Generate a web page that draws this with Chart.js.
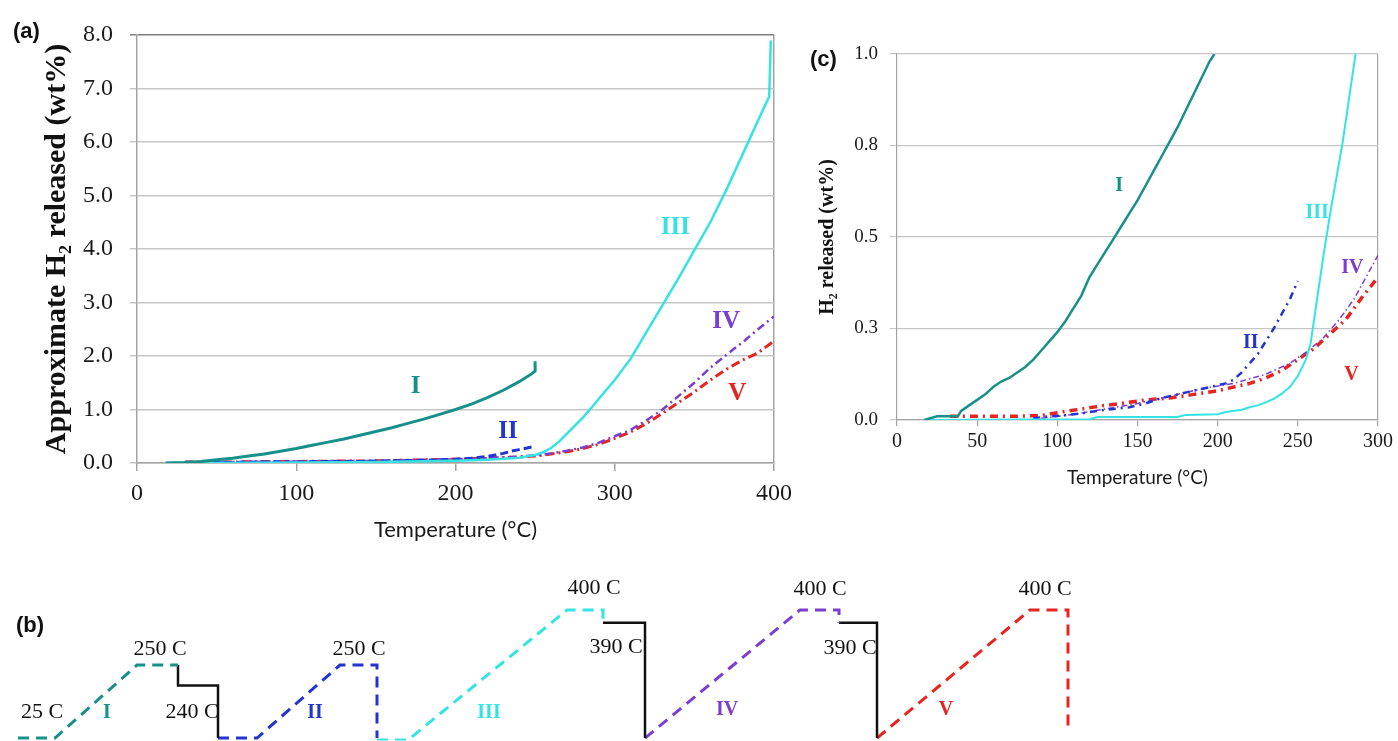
<!DOCTYPE html>
<html lang="en">
<head>
  <meta charset="UTF-8">
  <title>H2 release on heating</title>
  <script src="https://cdn.jsdelivr.net/npm/chart.js"></script>
  <style>
    body { margin: 0; background: #fff; }
    .page { position: relative; width: 1398px; height: 741px; overflow: hidden; background: #fff; }
    .box { position: absolute; }
    .tag { position: absolute; font-family: 'Liberation Sans Narrow', 'Liberation Sans', Arial, sans-serif; font-weight: bold; font-size: 22px; color: #111; }
  </style>
</head>
<body>
<div class="page">
  <div class="box" style="left:0;top:0;width:800px;height:560px"><canvas id="chartA"></canvas></div>
  <div class="box" style="left:800px;top:0;width:598px;height:500px"><canvas id="chartC"></canvas></div>
  <div class="box" style="left:0;top:565px;width:1100px;height:176px"><canvas id="chartB"></canvas></div>
  <div class="tag" style="left:13px;top:18px">(a)</div>
  <div class="tag" style="left:810px;top:46px">(c)</div>
  <div class="tag" style="left:16px;top:612px">(b)</div>
</div>

<script>
  // ---- (a) H2 released vs temperature, full runs ----
  const tempA_I  = [18, 30, 40, 50, 60, 70, 80, 90, 100, 110, 120, 130, 140, 150, 160, 170, 180, 190, 200, 210, 220, 230, 240, 248, 250, 250];
  const h2A_I    = [0, 0.01, 0.03, 0.06, 0.09, 0.13, 0.17, 0.22, 0.27, 0.33, 0.39, 0.45, 0.52, 0.59, 0.66, 0.74, 0.82, 0.91, 1.0, 1.1, 1.22, 1.36, 1.52, 1.67, 1.72, 1.9];
  const tempA_II = [40, 60, 80, 100, 120, 140, 160, 180, 200, 210, 220, 225, 230, 235, 240, 245, 248];
  const h2A_II   = [0.01, 0.01, 0.02, 0.02, 0.03, 0.03, 0.04, 0.05, 0.07, 0.09, 0.12, 0.15, 0.18, 0.22, 0.25, 0.28, 0.3];
  const tempA_III = [18, 50, 100, 150, 200, 220, 240, 250, 255, 260, 265, 270, 275, 280, 285, 290, 300, 310, 320, 330, 340, 350, 360, 370, 380, 390, 397, 398];
  const h2A_III   = [0, 0, 0.01, 0.02, 0.04, 0.06, 0.1, 0.15, 0.2, 0.28, 0.4, 0.55, 0.7, 0.85, 1.02, 1.2, 1.55, 1.95, 2.45, 2.95, 3.45, 3.98, 4.5, 5.1, 5.75, 6.4, 6.85, 7.9];
  const tempA_IV = [30, 60, 100, 150, 200, 220, 240, 250, 260, 270, 280, 290, 300, 310, 320, 330, 340, 350, 360, 370, 380, 390, 400];
  const h2A_IV   = [0.02, 0.02, 0.03, 0.04, 0.07, 0.09, 0.12, 0.14, 0.18, 0.23, 0.29, 0.38, 0.5, 0.62, 0.8, 1.0, 1.25, 1.5, 1.78, 2.02, 2.25, 2.5, 2.74];
  const tempA_V  = [30, 60, 100, 150, 200, 220, 240, 250, 260, 270, 280, 290, 300, 310, 320, 330, 340, 350, 360, 370, 380, 390, 400];
  const h2A_V    = [0.02, 0.02, 0.03, 0.04, 0.07, 0.09, 0.11, 0.13, 0.17, 0.21, 0.27, 0.35, 0.46, 0.58, 0.74, 0.93, 1.13, 1.33, 1.55, 1.75, 1.92, 2.06, 2.28];

  // ---- (c) close-up of the first 1 wt% ----
  const tempC_I  = [17, 25, 38, 40, 45, 50, 55, 60, 65, 70, 75, 80, 85, 90, 95, 100, 105, 110, 115, 120, 125, 130, 135, 140, 145, 150, 155, 160, 165, 170, 175, 180, 185, 190, 195, 198];
  const h2C_I    = [0, 0.01, 0.01, 0.025, 0.04, 0.055, 0.07, 0.09, 0.105, 0.115, 0.13, 0.145, 0.165, 0.19, 0.215, 0.24, 0.27, 0.305, 0.34, 0.39, 0.425, 0.46, 0.495, 0.53, 0.565, 0.6, 0.64, 0.68, 0.72, 0.76, 0.8, 0.845, 0.89, 0.935, 0.98, 1.0];
  const tempC_II = [85, 95, 105, 115, 125, 135, 145, 155, 165, 175, 185, 195, 205, 210, 215, 220, 225, 230, 235, 240, 245, 250];
  const h2C_II   = [0.005, 0.01, 0.013, 0.018, 0.025, 0.03, 0.035, 0.045, 0.06, 0.07, 0.08, 0.09, 0.1, 0.11, 0.13, 0.155, 0.18, 0.215, 0.25, 0.29, 0.33, 0.38];
  const tempC_III = [20, 120, 125, 175, 180, 200, 205, 215, 220, 225, 230, 235, 240, 245, 250, 255, 258, 260, 263, 266, 270, 274, 278, 282, 286];
  const h2C_III   = [0, 0.002, 0.008, 0.008, 0.014, 0.016, 0.022, 0.028, 0.035, 0.04, 0.048, 0.058, 0.072, 0.09, 0.12, 0.165, 0.21, 0.27, 0.36, 0.45, 0.56, 0.66, 0.76, 0.88, 1.0];
  const tempC_IV = [90, 110, 130, 150, 170, 190, 210, 230, 245, 255, 265, 275, 285, 290, 295, 300];
  const h2C_IV   = [0.005, 0.015, 0.03, 0.045, 0.065, 0.085, 0.1, 0.125, 0.155, 0.185, 0.22, 0.27, 0.33, 0.37, 0.41, 0.45];
  const tempC_V  = [33, 42, 50, 70, 90, 100, 115, 130, 141, 155, 170, 185, 200, 210, 220, 230, 240, 250, 260, 270, 280, 290, 300];
  const h2C_V    = [0.01, 0.01, 0.01, 0.01, 0.012, 0.02, 0.03, 0.04, 0.046, 0.055, 0.06, 0.07, 0.08, 0.09, 0.1, 0.115, 0.135, 0.165, 0.195, 0.235, 0.275, 0.335, 0.39];

  // curve labels
  const runNames   = ['I', 'II', 'III', 'IV', 'V'];
  const labelTempA = [175, 233, 338, 370, 377];
  const labelH2A   = [1.42, 0.58, 4.4, 2.65, 1.3];
  const labelTempC = [138.5, 220.6, 262, 284, 283.4];
  const labelH2C   = [0.64, 0.211, 0.565, 0.415, 0.124];

  // ---- (b) heating programmes (schematic: time a.u. vs level, 0 = start, 1 = 400 C hold) ----
  const progTime_I   = [1.8, 5.5, 13.7, 17.8];
  const progLevel_I  = [0, 0, 0.57, 0.57];
  const coolTime_I   = [17.8, 17.8, 21.8, 21.8];
  const coolLevel_I  = [0.57, 0.41, 0.41, 0];
  const progTime_II  = [21.8, 25.7, 34.0, 37.7, 37.7];
  const progLevel_II = [0, 0, 0.57, 0.57, 0];
  const progTime_III  = [37.7, 40.8, 56.7, 60.3, 60.3];
  const progLevel_III = [-0.015, -0.015, 1, 1, 0.9];
  const coolTime_III  = [60.3, 64.5, 64.5];
  const coolLevel_III = [0.9, 0.9, 0];
  const progTime_IV  = [64.5, 80.0, 83.9, 83.9];
  const progLevel_IV = [0, 1, 1, 0.9];
  const coolTime_IV  = [83.9, 87.7, 87.7];
  const coolLevel_IV = [0.9, 0.9, 0];
  const progTime_V   = [87.7, 103.0, 106.8, 106.8];
  const progLevel_V  = [0, 1, 1, 0.086];

  const stepText  = ['25 C', '250 C', '240 C', '250 C', '400 C', '390 C', '400 C', '390 C', '400 C'];
  const stepTime  = [4.2, 16.0, 19.2, 35.9, 59.4, 61.6, 82.0, 85.0, 104.5];
  const stepLevel = [0.2, 0.69, 0.2, 0.69, 1.17, 0.71, 1.16, 0.70, 1.16];
  const runTime   = [10.7, 31.5, 48.9, 72.7, 94.6];
  const runLevel  = [0.2, 0.2, 0.2, 0.22, 0.22];

  const colors = { I: '#18908a', II: '#2334cf', III: '#35e3e3', IV: '#7a3fcf', V: '#e62420' };
  const runColors = runNames.map(n => colors[n]);
  const serif = "'Liberation Serif', 'Times New Roman', serif";
  const sans = "Lato, 'Open Sans', sans-serif";
  const gridGrey = '#c6c6c6';
  const frameGrey = '#a3a3a3';

  const pts = (xs, ys) => xs.map((x, i) => ({ x: x, y: ys[i] }));
  function curve(data, color, width, dash) {
    return {
      data: data, showLine: true, borderColor: color, backgroundColor: color,
      borderWidth: width, borderDash: dash, pointRadius: 0, tension: 0, fill: false
    };
  }

  // draws text items at data coordinates
  const textLabels = {
    id: 'textLabels',
    beforeDatasetsDraw(chart, args, opts) {
      const ctx = chart.ctx;
      const xs = chart.scales.x, ys = chart.scales.y;
      ctx.save();
      ctx.textAlign = 'center';
      ctx.textBaseline = 'middle';
      (opts.items || []).forEach(it => {
        ctx.font = it.font;
        ctx.fillStyle = it.color;
        ctx.fillText(it.text, xs.getPixelForValue(it.x), ys.getPixelForValue(it.y));
      });
      ctx.restore();
    }
  };

  Chart.defaults.animation = false;
  Chart.defaults.plugins.legend.display = false;
  Chart.defaults.plugins.tooltip.enabled = false;

  // ---------- panel (a) ----------
  new Chart(document.getElementById('chartA'), {
    type: 'scatter',
    plugins: [textLabels],
    data: {
      datasets: [
        curve(pts(tempA_I, h2A_I), colors.I, 3, []),
        curve(pts(tempA_III, h2A_III), colors.III, 2.5, []),
        curve(pts(tempA_II, h2A_II), colors.II, 3, [8, 4]),
        curve(pts(tempA_IV, h2A_IV), colors.IV, 2.5, [8, 4, 2, 4]),
        curve(pts(tempA_V, h2A_V), colors.V, 3, [9, 4, 2, 4])
      ]
    },
    options: {
      responsive: true,
      maintainAspectRatio: false,
      layout: { padding: { top: 35, right: 26, left: 0, bottom: 0 } },
      plugins: {
        textLabels: {
          items: runNames.map((n, i) => ({ text: n, x: labelTempA[i], y: labelH2A[i], color: runColors[i], font: 'bold 25px ' + serif }))
        }
      },
      scales: {
        x: {
          type: 'linear', min: 0, max: 400,
          ticks: { stepSize: 100, padding: 8, color: '#1a1a1a', font: { family: serif, size: 24 } },
          grid: {
            color: c => (c.tick && c.tick.value === 400 ? frameGrey : 'rgba(0,0,0,0)'),
            tickColor: frameGrey, tickLength: 8, lineWidth: 1.5
          },
          border: { color: frameGrey, width: 1.5 },
          title: { display: true, text: 'Temperature (°C)', color: '#1a1a1a', font: { family: sans, size: 22 }, padding: { top: 0, bottom: 17 } },
          afterFit: s => { s.height = 97; }
        },
        y: {
          min: 0, max: 8,
          ticks: { stepSize: 1, padding: 17, color: '#1a1a1a', font: { family: serif, size: 24 }, callback: v => v.toFixed(1) },
          grid: {
            color: c => (c.tick && c.tick.value === 8 ? '#7d7d7d' : gridGrey),
            tickLength: 7, lineWidth: 1.5
          },
          border: { color: frameGrey, width: 1.5 },
          title: { display: true, text: 'Approximate H\u2082 released (wt%)', color: '#111', font: { family: serif, size: 30, weight: 'bold' }, padding: { top: 39, bottom: 0 } },
          afterFit: s => { s.width = 137; }
        }
      }
    }
  });

  // ---------- panel (c) ----------
  new Chart(document.getElementById('chartC'), {
    type: 'scatter',
    plugins: [textLabels],
    data: {
      datasets: [
        curve(pts(tempC_I, h2C_I), colors.I, 2.5, []),
        curve(pts(tempC_III, h2C_III), colors.III, 2, []),
        curve(pts(tempC_II, h2C_II), colors.II, 2.5, [7, 5, 2, 5]),
        curve(pts(tempC_IV, h2C_IV), colors.IV, 1.5, [6, 3, 1.5, 3]),
        curve(pts(tempC_V, h2C_V), colors.V, 3.5, [8, 5, 2, 5])
      ]
    },
    options: {
      responsive: true,
      maintainAspectRatio: false,
      layout: { padding: { top: 54, right: 20, left: 0, bottom: 0 } },
      plugins: {
        textLabels: {
          items: runNames.map((n, i) => ({ text: n, x: labelTempC[i], y: labelH2C[i], color: runColors[i], font: 'bold 20px ' + serif }))
        }
      },
      scales: {
        x: {
          type: 'linear', min: 0, max: 300,
          ticks: { stepSize: 50, padding: 4, color: '#1a1a1a', font: { family: serif, size: 20 } },
          grid: {
            color: c => (c.tick && c.tick.value === 300 ? frameGrey : 'rgba(0,0,0,0)'),
            tickColor: frameGrey, tickLength: 6, lineWidth: 1.2
          },
          border: { color: frameGrey, width: 1.2 },
          title: { display: true, text: 'Temperature (°C)', color: '#1a1a1a', font: { family: sans, size: 19 }, padding: { top: 0, bottom: 11 } },
          afterFit: s => { s.height = 80; }
        },
        y: {
          min: 0, max: 1,
          ticks: { stepSize: 0.25, padding: 12, color: '#1a1a1a', font: { family: serif, size: 19 }, callback: v => v.toFixed(1) },
          grid: { color: gridGrey, tickLength: 7, lineWidth: 1.2 },
          border: { color: frameGrey, width: 1.2 },
          title: { display: true, text: 'H\u2082 released (wt%)', color: '#111', font: { family: serif, size: 20, weight: 'bold' }, padding: { top: 16, bottom: 0 } },
          afterFit: s => { s.width = 97; }
        }
      }
    }
  });

  // ---------- panel (b) ----------
  const stepItems = stepText.map((t, i) => ({ text: t, x: stepTime[i], y: stepLevel[i], color: '#111', font: '22px ' + serif }));
  const runItems = runNames.map((n, i) => ({ text: n, x: runTime[i], y: runLevel[i], color: runColors[i], font: 'bold 20px ' + serif }));

  new Chart(document.getElementById('chartB'), {
    type: 'scatter',
    plugins: [textLabels],
    data: {
      datasets: [
        curve(pts(progTime_I, progLevel_I), colors.I, 3, [11, 7]),
        curve(pts(coolTime_I, coolLevel_I), '#111', 2.5, []),
        curve(pts(progTime_II, progLevel_II), colors.II, 3, [11, 7]),
        curve(pts(progTime_III, progLevel_III), colors.III, 3, [11, 7]),
        curve(pts(coolTime_III, coolLevel_III), '#111', 2.5, []),
        curve(pts(progTime_IV, progLevel_IV), colors.IV, 3, [11, 7]),
        curve(pts(coolTime_IV, coolLevel_IV), '#111', 2.5, []),
        curve(pts(progTime_V, progLevel_V), colors.V, 3, [11, 7])
      ]
    },
    options: {
      responsive: true,
      maintainAspectRatio: false,
      layout: { padding: { top: 6.6, right: 0, left: 0, bottom: 0.4 } },
      plugins: { textLabels: { items: stepItems.concat(runItems) } },
      scales: {
        x: { type: 'linear', min: 0, max: 110, display: false },
        y: { min: -0.02, max: 1.3, display: false }
      }
    }
  });
</script>
</body>
</html>
